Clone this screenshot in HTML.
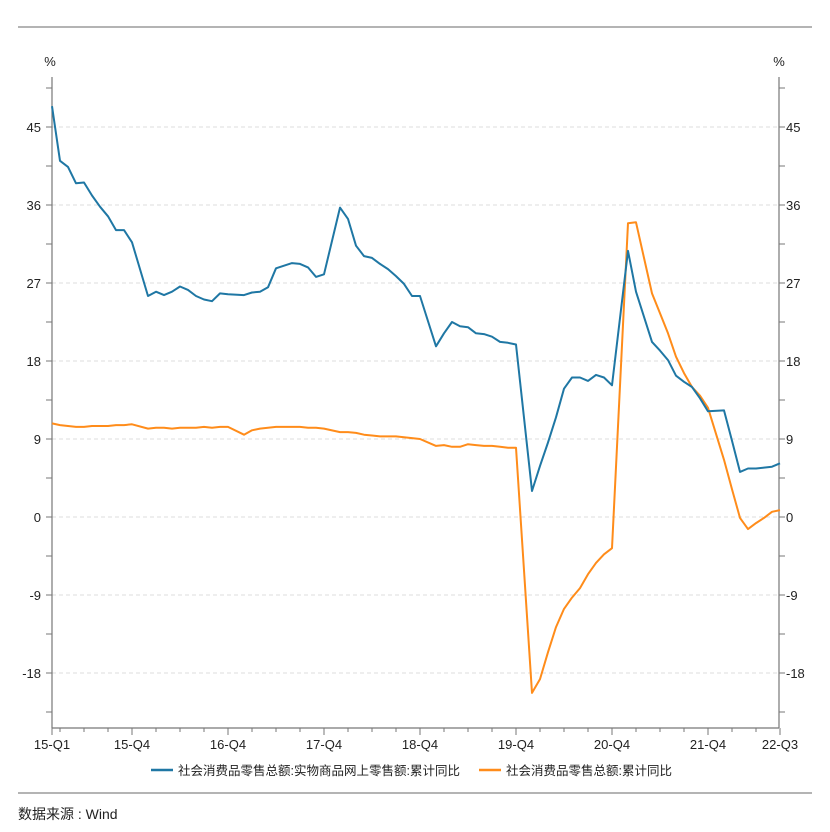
<!DOCTYPE html>
<html><head><meta charset="utf-8">
<style>
body{margin:0;background:#fff;}
svg{display:block;font-family:"Liberation Sans","Noto Sans CJK SC",sans-serif;}
</style></head>
<body>
<svg id="chart" width="830" height="832" viewBox="0 0 830 832">
<line x1="18" y1="27" x2="812" y2="27" stroke="#888" stroke-width="1.2"/>
<line x1="18" y1="793" x2="812" y2="793" stroke="#888" stroke-width="1.2"/>
<g id="grid"></g>
<g id="axes"></g>
<g id="series"></g>
<text x="50" y="66" font-size="13" text-anchor="middle" fill="#222">%</text>
<text x="779" y="66" font-size="13" text-anchor="middle" fill="#222">%</text>
<g>
<g>
<line x1="151" y1="770" x2="173" y2="770" stroke="#1f77a4" stroke-width="2.5"/>
<text x="178" y="775" font-size="12.5" fill="#222">社会消费品零售总额:实物商品网上零售额:累计同比</text>
</g>
<g>
<line x1="479" y1="770" x2="501" y2="770" stroke="#ff8c1a" stroke-width="2.5"/>
<text x="506" y="775" font-size="12.5" fill="#222">社会消费品零售总额:累计同比</text>
</g>
</g>
<text x="18" y="819" font-size="14" fill="#222">数据来源 : Wind</text>
</svg>
<script>
const months = ["2015-02","2015-03","2015-04","2015-05","2015-06","2015-07","2015-08","2015-09","2015-10","2015-11","2015-12",
"2016-02","2016-03","2016-04","2016-05","2016-06","2016-07","2016-08","2016-09","2016-10","2016-11","2016-12",
"2017-02","2017-03","2017-04","2017-05","2017-06","2017-07","2017-08","2017-09","2017-10","2017-11","2017-12",
"2018-02","2018-03","2018-04","2018-05","2018-06","2018-07","2018-08","2018-09","2018-10","2018-11","2018-12",
"2019-02","2019-03","2019-04","2019-05","2019-06","2019-07","2019-08","2019-09","2019-10","2019-11","2019-12",
"2020-02","2020-03","2020-04","2020-05","2020-06","2020-07","2020-08","2020-09","2020-10","2020-11","2020-12",
"2021-02","2021-03","2021-04","2021-05","2021-06","2021-07","2021-08","2021-09","2021-10","2021-11","2021-12",
"2022-02","2022-03","2022-04","2022-05","2022-06","2022-07","2022-08","2022-09"];
const onlineValues = [47.4,41.1,40.4,38.5,38.6,37.1,35.8,34.7,33.1,33.1,31.7,
25.5,26.0,25.6,26.0,26.6,26.2,25.5,25.1,24.9,25.8,25.7,
25.6,25.9,26.0,26.5,28.7,29.0,29.3,29.2,28.8,27.7,28.0,
35.7,34.4,31.3,30.1,29.9,29.2,28.6,27.8,26.9,25.5,25.5,
19.7,21.2,22.5,22.0,21.9,21.2,21.1,20.8,20.2,20.1,19.9,
3.0,5.9,8.6,11.5,14.8,16.1,16.1,15.7,16.4,16.1,15.2,
30.7,26.0,23.1,20.2,19.2,18.1,16.3,15.6,15.0,13.7,12.2,
12.3,8.8,5.2,5.6,5.6,5.7,5.8,6.2];
const totalValues = [10.8,10.6,10.5,10.4,10.4,10.5,10.5,10.5,10.6,10.6,10.7,
10.2,10.3,10.3,10.2,10.3,10.3,10.3,10.4,10.3,10.4,10.4,
9.5,10.0,10.2,10.3,10.4,10.4,10.4,10.4,10.3,10.3,10.2,
9.8,9.8,9.7,9.5,9.4,9.3,9.3,9.3,9.2,9.1,9.0,
8.2,8.3,8.1,8.1,8.4,8.3,8.2,8.2,8.1,8.0,8.0,
-20.3,-18.7,-15.6,-12.7,-10.6,-9.3,-8.2,-6.6,-5.3,-4.3,-3.6,
33.9,34.0,29.9,25.8,23.5,21.2,18.5,16.6,15.0,14.0,12.6,
6.6,3.2,-0.1,-1.4,-0.7,-0.1,0.6,0.8];
const yTicks = [-18,-9,0,9,18,27,36,45];
const xTickLabels = ["15-Q1","15-Q4","16-Q4","17-Q4","18-Q4","19-Q4","20-Q4","21-Q4","22-Q3"];
const xTickMonths = ["2015-02","2015-12","2016-12","2017-12","2018-12","2019-12","2020-12","2021-12","2022-09"];

const NS="http://www.w3.org/2000/svg";
const L=52,R=779,T=77,B=728;
function monthIndex(s){const [y,m]=s.split("-").map(Number);return (y-2015)*12+(m-2);}
function xs(s){return L+8*monthIndex(s);}
function xi(i){return L+8*i;}
function ys(v){return 517-v*78/9;}
function mk(tag,attrs,parent){const e=document.createElementNS(NS,tag);for(const k in attrs)e.setAttribute(k,attrs[k]);parent.appendChild(e);return e;}
const grid=document.getElementById("grid"),axes=document.getElementById("axes"),series=document.getElementById("series");

yTicks.forEach(v=>{
  const g=mk("line",{x1:L,x2:R,y1:ys(v),y2:ys(v),stroke:"#ddd","stroke-dasharray":"4,3"},grid);
  
  
  const lt=mk("text",{x:41,y:ys(v)+5,"font-size":13,"text-anchor":"end",fill:"#222"},axes);
  lt.textContent=v;
  
  
  const rt=mk("text",{x:786,y:ys(v)+5,"font-size":13,"text-anchor":"start",fill:"#222"},axes);
  rt.textContent=v;
  
  
});
for(let v=-22.5;v<=49.5;v+=4.5){
  const a=mk("line",{x1:L-6,x2:L,y1:ys(v),y2:ys(v),stroke:"#777"},axes);
  
  
  const b=mk("line",{x1:R,x2:R+6,y1:ys(v),y2:ys(v),stroke:"#777"},axes);
  
  
}
const la=mk("line",{x1:L,x2:L,y1:T,y2:B,stroke:"#777","stroke-width":1.2},axes);


const ra=mk("line",{x1:R,x2:R,y1:T,y2:B,stroke:"#777","stroke-width":1.2},axes);


const ba=mk("line",{x1:L,x2:R,y1:B,y2:B,stroke:"#777","stroke-width":1.2},axes);


for(let i=1;i<=91;i+=3){
  const t=mk("line",{x1:xi(i),x2:xi(i),y1:B,y2:B+4,stroke:"#777"},axes);
  
  
}
xTickLabels.forEach((lab,k)=>{
  const x=xs(xTickMonths[k]);
  const t=mk("line",{x1:x,x2:x,y1:B,y2:B+7,stroke:"#777"},axes);
  
  
  const tx=mk("text",{x:x,y:B+21,"font-size":13,"text-anchor":"middle",fill:"#222"},axes);
  tx.textContent=lab;
  
  
});
function drawLine(vals,color,name){
  const d=vals.map((v,i)=>(i?"L":"M")+xs(months[i]).toFixed(1)+","+ys(v).toFixed(1)).join(" ");
  const p=mk("path",{d:d,fill:"none",stroke:color,"stroke-width":2,"stroke-linejoin":"round"},series);
  
  
}
drawLine(totalValues,"#ff8c1a","line-total-retail");
drawLine(onlineValues,"#1f77a4","line-online-retail");
</script>
</body></html>
